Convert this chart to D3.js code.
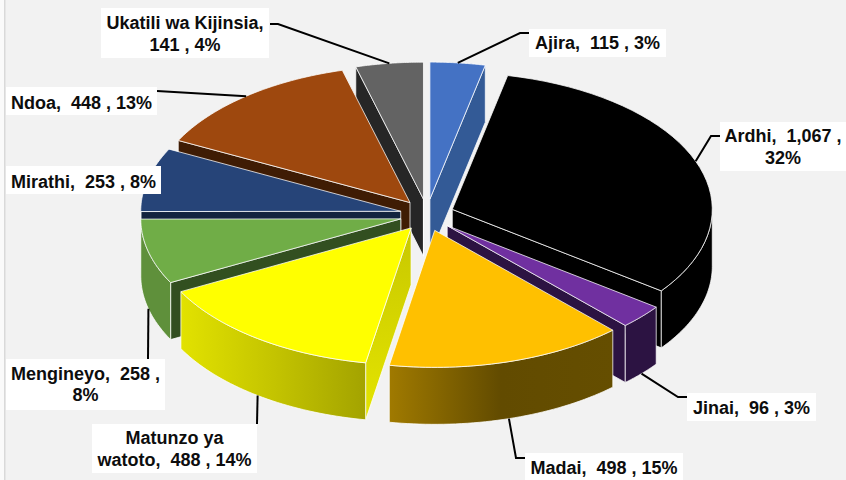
<!DOCTYPE html>
<html><head><meta charset="utf-8">
<script src="https://cdn.jsdelivr.net/npm/d3@7"></script>
<style>html,body{margin:0;padding:0;background:#f2f2f2}svg{display:block}</style>
</head><body><svg id="c" width="846" height="480"></svg>
<script>
const categories=["Ajira","Ardhi","Jinai","Madai","Matunzo ya watoto","Mengineyo","Mirathi","Ndoa","Ukatili wa Kijinsia"];
const values=[115,1067,96,498,488,258,253,448,141];
const percents=["3%","32%","3%","15%","14%","8%","8%","13%","4%"];
const topColors=["#4472c4","#000000","#7030a0","#ffc000","#ffff00","#70ad47","#264478","#9e480e","#636363"];
const edgeColors=["#335a96","#000000","#2c1342","#6b5000","#cfcf00","#324f20","#13233f","#3f1c04","#262626"];
const wallStops=[null,null,null,["#a07a00","#624b00","#654e00"],["#e2e200","#c4c400","#a3a300"],["#5f903b","#5f903b","#5f903b"],null,null,null];
const paintOrder=[8,0,7,1,6,5,2,3,4];
const labelLines=[["Ajira,  115 , 3%"],["Ardhi,  1,067 ,","32%"],["Jinai,  96 , 3%"],["Madai,  498 , 15%"],["Matunzo ya","watoto,  488 , 14%"],["Mengineyo,  258 ,","8%"],["Mirathi,  253 , 8%"],["Ndoa,  448 , 13%"],["Ukatili wa Kijinsia,","141 , 4%"]];
const labelBoxes=[[529,29,137,28],[720,122,126,49],[687,393,129,28],[525,453,158,30],[92,424,165,49],[6,359,159,51],[6,166,155,28],[6,87,151,28],[101,8,168,50]];
const labelNudge=[0,0.5,1,0,0.5,0,2,2,1];
const leaderVia=[[[520,33],[529,33]],[[711,136],[720,136]],[[678,397],[687,397]],[[516,458],[525,458]],[[257,424]],[[148,359]],null,[[157,91]],[[278,24],[270,24]]];

const W=846,H=480,cx=427,cy=215,rx=260,ry=137,depth=57,explodeX=27,explodeY=16;
const svg=d3.select("#c");
svg.append("rect").attr("width",W).attr("height",H).attr("fill","#f2f2f2");
svg.append("rect").attr("width",5).attr("height",H).attr("fill","#fafafa");
svg.append("rect").attr("x",4).attr("width",1.5).attr("height",H).attr("fill","#d9d9d9");

const arcs=d3.pie().sort(null).startAngle(0).endAngle(2*Math.PI)(values);
const defs=svg.append("defs");
const line=d3.line();
const rim=(a,o,dz=0)=>[o[0]+rx*Math.sin(a),o[1]-ry*Math.cos(a)+dz];
const samples=(a0,a1)=>d3.range(0,41).map(i=>a0+(a1-a0)*i/40);
const outline=s=>s.attr("stroke","#ffffff").attr("stroke-width",1).attr("stroke-opacity",.75).attr("stroke-linejoin","round");

arcs.forEach(d=>{d.mid=(d.startAngle+d.endAngle)/2;
  d.o=[cx+explodeX*Math.sin(d.mid),cy-explodeY*Math.cos(d.mid)];});

const cutGrad=defs.append("linearGradient").attr("id","matCut").attr("x1",0).attr("y1",0).attr("x2",0).attr("y2",1);
cutGrad.append("stop").attr("offset",0).attr("stop-color","#c8c800");
cutGrad.append("stop").attr("offset",1).attr("stop-color","#e4e400");

paintOrder.forEach(i=>{
  const d=arcs[i],o=d.o,g=svg.append("g");
  const a0=d.startAngle,a1=d.endAngle;
  const band=(p,q)=>line([p,q,[q[0],q[1]+depth],[p[0],p[1]+depth]])+"Z";
  const sP=rim(a0,o),eP=rim(a1,o);
  // a cut face is seen when its outward normal points toward the viewer
  if(sP[0]<o[0]) outline(g.append("path").attr("d",band(o,sP)).attr("fill",i===4?"url(#matCut)":edgeColors[i]));
  if(eP[0]>o[0]) outline(g.append("path").attr("d",band(o,eP)).attr("fill",edgeColors[i]));
  // outer wall on the front half
  const w0=Math.max(a0,Math.PI/2),w1=Math.min(a1,Math.PI*1.5);
  if(w1>w0){
    const top=samples(w0,w1).map(a=>rim(a,o));
    const bot=top.map(p=>[p[0],p[1]+depth]).reverse();
    let f=edgeColors[i];
    if(wallStops[i]){
      const xs=d3.extent(top,p=>p[0]);
      const lg=defs.append("linearGradient").attr("id","wall"+i).attr("gradientUnits","userSpaceOnUse").attr("x1",xs[0]).attr("x2",xs[1]).attr("y1",0).attr("y2",0);
      wallStops[i].forEach((c,k)=>lg.append("stop").attr("offset",k/(wallStops[i].length-1)).attr("stop-color",c));
      f="url(#wall"+i+")";
    }
    outline(g.append("path").attr("d",line(top.concat(bot))+"Z").attr("fill",f));
  }
  // top face
  outline(g.append("path").attr("d",line([o].concat(samples(a0,a1).map(a=>rim(a,o))))+"Z").attr("fill",topColors[i]));
});

// leader lines start on the rim at each slice's middle angle
arcs.forEach((d,i)=>{
  if(!leaderVia[i])return;
  const front=d.mid>Math.PI/2&&d.mid<Math.PI*1.5;
  const p=rim(d.mid,d.o,front?depth:0);
  svg.append("path").attr("d",line([p].concat(leaderVia[i]))).attr("fill","none").attr("stroke","#000").attr("stroke-width",2);
});
// labels
const fs=18,lh=21.5;
categories.forEach((c,i)=>{
  const b=labelBoxes[i],L=labelLines[i];
  svg.append("rect").attr("x",b[0]).attr("y",b[1]).attr("width",b[2]).attr("height",b[3]).attr("fill","#fff");
  const yc=(i===3?b[1]+15:b[1]+b[3]/2)+labelNudge[i];
  L.forEach((t,k)=>{
    svg.append("text").attr("x",b[0]+b[2]/2).attr("y",yc+(k-(L.length-1)/2)*lh)
      .attr("text-anchor","middle").attr("dominant-baseline","central")
      .attr("xml:space","preserve").style("white-space","pre")
      .attr("font-family","'Liberation Sans',Arial,sans-serif").attr("font-size",fs).attr("font-weight",700).attr("fill","#0d0d0d").text(t);
  });
});
</script></body></html>
